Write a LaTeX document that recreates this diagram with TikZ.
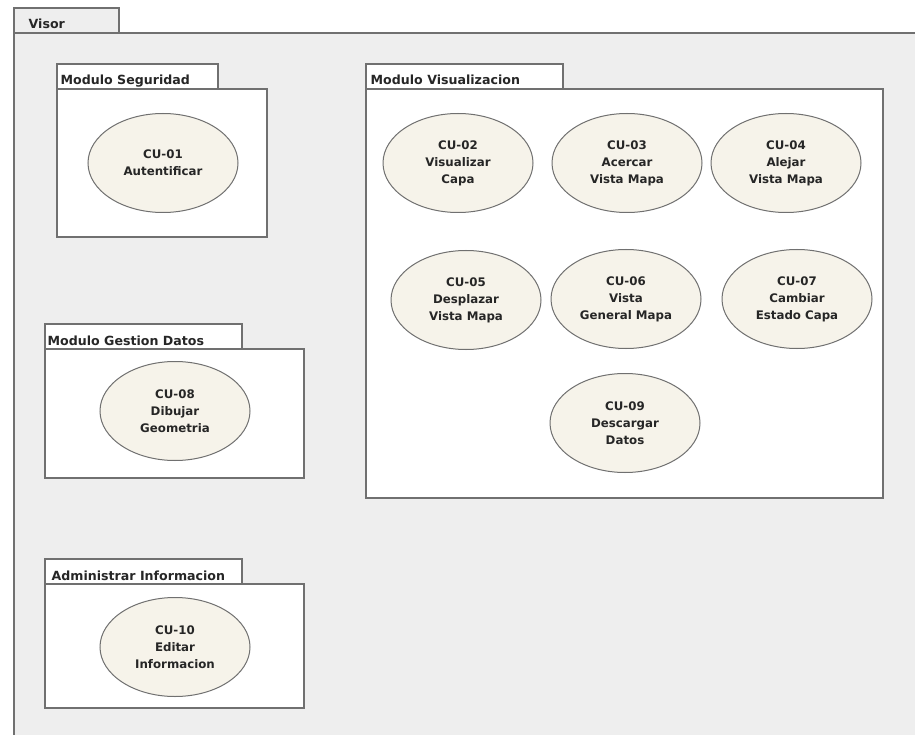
\documentclass[tikz,border=0pt]{standalone}
\usepackage{fontspec}
\setmainfont{DejaVu Sans}
\usetikzlibrary{shapes.geometric}
\definecolor{framegray}{HTML}{EEEEEE}
\definecolor{linegray}{HTML}{707070}
\definecolor{cufill}{HTML}{F6F3EA}
\definecolor{txtgray}{HTML}{262626}

\begin{document}
\begin{tikzpicture}[x=1pt, y=-1pt, line width=1.4pt,
  pkg/.style = {draw=linegray, fill=white},
  tablabel/.style = {anchor=base west, inner sep=0pt, font=\bfseries\fontsize{12.6}{15}\selectfont, text=txtgray},
  usecase/.style = {draw=linegray, line width=1pt, fill=cufill, ellipse, minimum width=150pt, minimum height=99pt, inner sep=0pt, align=center, font=\bfseries\fontsize{11.8}{17}\selectfont, text=txtgray}]
  \useasboundingbox (0,0) rectangle (915,735);
  % system frame
  \fill[framegray] (14,33) rectangle (915,735);
  \draw[pkg, fill=framegray] (14,33) rectangle (119,8);
  \draw[linegray] (14,735) -- (14,33) -- (915,33);
  \node[tablabel] (visor) at (28,29) {Visor};
  % packages
  \draw[pkg] (57,64) rectangle (218,89);
  \draw[pkg] (57,89) rectangle (267,237);
  \node[tablabel] (seg) at (60,85) {Modulo Seguridad};
  \draw[pkg] (366,64) rectangle (563,89);
  \draw[pkg] (366,89) rectangle (883,498);
  \node[tablabel] (vis) at (370,85) {Modulo Visualizacion};
  \draw[pkg] (45,324) rectangle (242,349);
  \draw[pkg] (45,349) rectangle (304,478);
  \node[tablabel] (gest) at (47,345) {Modulo Gestion Datos};
  \draw[pkg] (45,559) rectangle (242,584);
  \draw[pkg] (45,584) rectangle (304,708);
  \node[tablabel] (adm) at (51,580) {Administrar Informacion};
  % use cases
  \node[usecase] (cu01) at (163,163) {CU-01\\Autentificar};
  \node[usecase] (cu02) at (458,163) {CU-02\\Visualizar\\Capa};
  \node[usecase] (cu03) at (627,163) {CU-03\\Acercar\\Vista Mapa};
  \node[usecase] (cu04) at (786,163) {CU-04\\Alejar\\Vista Mapa};
  \node[usecase] (cu05) at (466,300) {CU-05\\Desplazar\\Vista Mapa};
  \node[usecase] (cu06) at (626,299) {CU-06\\Vista\\General Mapa};
  \node[usecase] (cu07) at (797,299) {CU-07\\Cambiar\\Estado Capa};
  \node[usecase] (cu09) at (625,423) {CU-09\\Descargar\\Datos};
  \node[usecase] (cu08) at (175,411) {CU-08\\Dibujar\\Geometria};
  \node[usecase] (cu10) at (175,647) {CU-10\\Editar\\Informacion};
\end{tikzpicture}
\end{document}
